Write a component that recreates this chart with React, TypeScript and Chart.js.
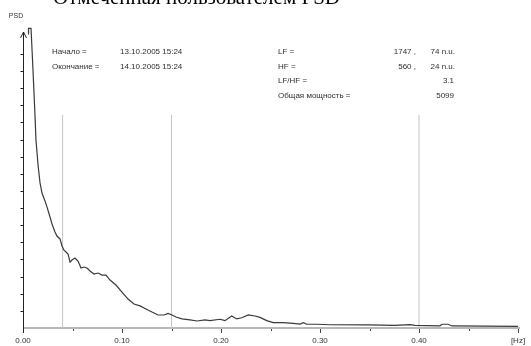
import React, { useEffect, useRef } from "react";
import { Chart, registerables } from "chart.js";

Chart.register(...registerables);

// Frequency (Hz) and PSD (in axis-tick units)
const freqHz = [
  0.0051, 0.0056, 0.0081, 0.0101, 0.0121, 0.0131, 0.0152, 0.0172, 0.0192, 0.0222,
  0.0242, 0.0273, 0.0293, 0.0323, 0.0343, 0.0374, 0.0394, 0.0414, 0.0434, 0.0455,
  0.0475, 0.0495, 0.0525, 0.0556, 0.0586, 0.0616, 0.0646, 0.0677, 0.0717, 0.0758,
  0.0798, 0.0838, 0.0879, 0.0939, 0.1, 0.1061, 0.1121, 0.1182, 0.1242, 0.1303,
  0.1364, 0.1424, 0.1465, 0.1505, 0.1545, 0.1606, 0.1687, 0.1758, 0.1838, 0.1889,
  0.199, 0.204, 0.2108, 0.2159, 0.2209, 0.2276, 0.2343, 0.2394, 0.2462, 0.2528,
  0.2629, 0.273, 0.2798, 0.2831, 0.2866, 0.2967, 0.31, 0.3475, 0.3758, 0.3909,
  0.396, 0.4212, 0.4232, 0.4293, 0.4333, 0.5,
];
const psdValues = [
  17.17, 17.5, 17.5, 15.06, 12.44, 10.98, 9.52, 8.47, 7.88, 7.42,
  7.07, 6.48, 6.07, 5.61, 5.37, 5.2, 4.79, 4.55, 4.44, 4.32,
  3.85, 3.97, 4.09, 3.91, 3.5, 3.56, 3.5, 3.33, 3.15, 3.21,
  3.09, 3.09, 2.8, 2.51, 2.1, 1.69, 1.4, 1.29, 1.11, 0.93,
  0.76, 0.76, 0.85, 0.76, 0.64, 0.53, 0.47, 0.41, 0.47, 0.43,
  0.51, 0.43, 0.7, 0.53, 0.6, 0.76, 0.7, 0.62, 0.43, 0.31,
  0.31, 0.27, 0.23, 0.31, 0.22, 0.22, 0.19, 0.18, 0.15, 0.2,
  0.15, 0.13, 0.22, 0.22, 0.12, 0.09,
];

// Band borders (vertical markers)
const bandLines = [0.04, 0.15, 0.4];
const bandLineTop = 12.44;

const xTickValues = [0, 0.1, 0.2, 0.3, 0.4, 0.5];
const xTickLabels = ["0.00", "0.10", "0.20", "0.30", "0.40", "[Hz]"];
const xMinorTicks = [0.05, 0.15, 0.25, 0.35, 0.45];
const yTickCount = 16;
const yMax = 17.575;

const titleText = "Отмеченная пользователем PSD";
const yAxisTitle = "PSD";
const leftLabels = ["Начало =", "Окончание ="];
const leftValues = ["13.10.2005 15:24", "14.10.2005 15:24"];
const rightLabels = ["LF =", "HF =", "LF/HF =", "Общая мощность ="];
const rightAbs = ["1747 ,", "560 ,", "3.1", "5099"];
const rightNu = ["74 n.u.", "24 n.u.", "", ""];

const decorPlugin = {
  id: "decor",
  beforeDatasetsDraw(chart: any) {
    const ctx = chart.ctx;
    const xs = chart.scales.x;
    const ys = chart.scales.y;
    const y0 = ys.getPixelForValue(0);
    ctx.save();
    ctx.fillStyle = "#b8b8b8";
    ctx.fillRect(xs.getPixelForValue(0), y0 - 1, xs.getPixelForValue(0.5) - xs.getPixelForValue(0) + 2, 2);
    ctx.restore();
  },
  afterDraw(chart: any) {
    const ctx = chart.ctx;
    const xs = chart.scales.x;
    const ys = chart.scales.y;
    const y0 = Math.round(ys.getPixelForValue(0));
    const x0 = Math.round(xs.getPixelForValue(0)) + 0.5;
    ctx.save();
    // x ticks
    ctx.strokeStyle = "#444";
    ctx.lineWidth = 1;
    xTickValues.forEach((v) => {
      const px = Math.round(xs.getPixelForValue(v)) + 0.5;
      ctx.beginPath();
      ctx.moveTo(px, y0 + 1);
      ctx.lineTo(px, y0 + 5);
      ctx.stroke();
    });
    xMinorTicks.forEach((v) => {
      const px = Math.round(xs.getPixelForValue(v)) + 0.5;
      ctx.beginPath();
      ctx.moveTo(px, y0 + 1);
      ctx.lineTo(px, y0 + 3);
      ctx.stroke();
    });
    ctx.fillStyle = "#333";
    ctx.font = "8px 'Liberation Sans', Arial, sans-serif";
    ctx.textAlign = "center";
    ctx.textBaseline = "alphabetic";
    xTickValues.forEach((v, i) => {
      ctx.fillText(xTickLabels[i], xs.getPixelForValue(v), y0 + 15);
    });
    // y axis
    ctx.strokeStyle = "#222";
    ctx.beginPath();
    ctx.moveTo(x0, 32);
    ctx.lineTo(x0, y0 + 5);
    ctx.stroke();
    ctx.beginPath();
    ctx.moveTo(x0 - 3, 38);
    ctx.lineTo(x0, 32);
    ctx.lineTo(x0 + 3, 38);
    ctx.stroke();
    for (let k = 1; k <= yTickCount; k++) {
      const py = Math.round(ys.getPixelForValue(k)) + 0.5;
      ctx.beginPath();
      ctx.moveTo(x0 - 3, py);
      ctx.lineTo(x0, py);
      ctx.stroke();
    }
    // PSD label
    ctx.font = "7px 'Liberation Sans', Arial, sans-serif";
    ctx.fillStyle = "#333";
    ctx.textAlign = "center";
    ctx.fillText(yAxisTitle, 16, 18);
    // title
    ctx.fillStyle = "#000";
    ctx.textAlign = "left";
    ctx.font = "20px 'Liberation Serif', 'Times New Roman', serif";
    const w = ctx.measureText(titleText).width;
    const size = (20 * 287) / w;
    ctx.font = `${size}px 'Liberation Serif', 'Times New Roman', serif`;
    ctx.fillText(titleText, 53, 4);
    // annotation texts
    ctx.font = "8px 'Liberation Sans', Arial, sans-serif";
    ctx.fillStyle = "#2e2e2e";
    const rows = [54, 68.5, 83, 97.5];
    leftLabels.forEach((t, i) => {
      ctx.textAlign = "left";
      ctx.fillText(t, 52, rows[i]);
      ctx.fillText(leftValues[i], 120, rows[i]);
    });
    rightLabels.forEach((t, i) => {
      ctx.textAlign = "left";
      ctx.fillText(t, 278, rows[i]);
      ctx.textAlign = "right";
      if (rightNu[i]) {
        ctx.fillText(rightAbs[i], 416, rows[i]);
        ctx.fillText(rightNu[i], 455, rows[i]);
      } else {
        ctx.fillText(rightAbs[i], 454, rows[i]);
      }
    });
    ctx.restore();
  },
};

export default function App() {
  const ref = useRef<HTMLCanvasElement | null>(null);
  useEffect(() => {
    if (!ref.current) return;
    const curve = freqHz.map((f, i) => ({ x: f, y: psdValues[i] }));
    const markerSets = bandLines.map((f) => ({
      data: [
        { x: f, y: 0 },
        { x: f, y: bandLineTop },
      ],
      borderColor: "#c4c4c4",
      borderWidth: 1,
      pointRadius: 0,
      order: 2,
    }));
    const chart = new Chart(ref.current, {
      type: "line",
      data: {
        datasets: [
          ...markerSets,
          {
            data: curve,
            borderColor: "#3a3a3a",
            borderWidth: 1.2,
            pointRadius: 0,
            tension: 0,
            order: 1,
          },
        ],
      },
      options: {
        animation: false,
        responsive: false,
        maintainAspectRatio: false,
        layout: { padding: { left: 23, right: 13, top: 27, bottom: 18 } },
        plugins: { legend: { display: false }, tooltip: { enabled: false } },
        scales: {
          x: { type: "linear", min: 0, max: 0.5, display: false },
          y: { type: "linear", min: 0, max: yMax, display: false },
        },
      },
      plugins: [decorPlugin],
    });
    return () => chart.destroy();
  }, []);
  return (
    <div style={{ position: "fixed", left: 0, top: 0, width: 531, height: 346, background: "#fff" }}>
      <canvas ref={ref} width={531} height={346} style={{ display: "block" }} />
    </div>
  );
}
